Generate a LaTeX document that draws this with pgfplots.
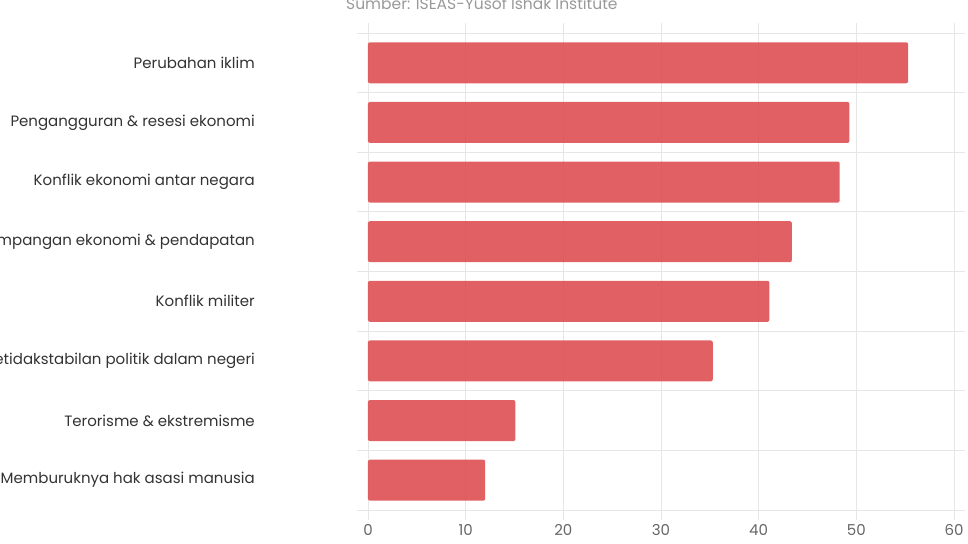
\documentclass[border=0pt]{standalone}
\usepackage{fontspec}
\setmainfont{Poppins}
\usepackage{pgfplots}
\pgfplotsset{compat=1.18}
\definecolor{barc}{HTML}{DE4F52}
\definecolor{gridc}{HTML}{E6E6E6}
\definecolor{labc}{HTML}{333333}
\definecolor{tickc}{HTML}{666666}
\definecolor{subc}{HTML}{999999}
\begin{document}
\begin{tikzpicture}
\begin{axis}[
  at={(0pt,0pt)}, anchor=south west,
  scale only axis, width=586pt, height=477pt,
  xmin=0, xmax=60, ymin=-0.5, ymax=7.5,
  y dir=reverse,
  axis line style={draw=none},
  xtick={0,10,...,60},
  xmajorgrids, major grid style={gridc, line width=0.8pt},
  x tick style={gridc, line width=0.8pt},
  tick align=outside,
  major tick length=10pt,
  ytick={0,...,7},
  y tick style={draw=none},
  minor ytick={-0.5,0.5,...,7.5},
  yminorgrids, minor grid style={gridc, line width=0.8pt},
  minor y tick style={gridc, line width=0.8pt, draw=gridc},
  minor tick length=11pt,
  yticklabels={Perubahan iklim, Pengangguran \& resesi ekonomi, Konflik ekonomi antar negara, Ketimpangan ekonomi \& pendapatan, Konflik militer, Ketidakstabilan politik dalam negeri, Terorisme \& ekstremisme, Memburuknya hak asasi manusia},
  yticklabel style={font=\fontsize{15}{18}\selectfont, text=labc, anchor=east, xshift=-103pt, inner sep=0pt},
  xticklabel style={font=\fontsize{15}{18}\selectfont, text=tickc, yshift=-1pt},
  /pgf/number format/assume math mode=true,
  xbar, bar width=41pt, bar shift=0pt,
]
\addplot[fill=barc, fill opacity=0.9, draw=none, rounded corners=2pt] coordinates {
(55.3,0) (49.3,1) (48.3,2) (43.4,3) (41.1,4) (35.3,5) (15.1,6) (12.0,7)
};
\end{axis}
\node[anchor=base west, font=\fontsize{15.5}{18}\selectfont, text=subc, inner sep=0pt] at (-22pt,500pt) {Sumber: ISEAS-Yusof Ishak Institute};
\pgfresetboundingbox
\useasboundingbox (-368pt,-33pt) rectangle (600pt,510pt);
\end{tikzpicture}
\end{document}
